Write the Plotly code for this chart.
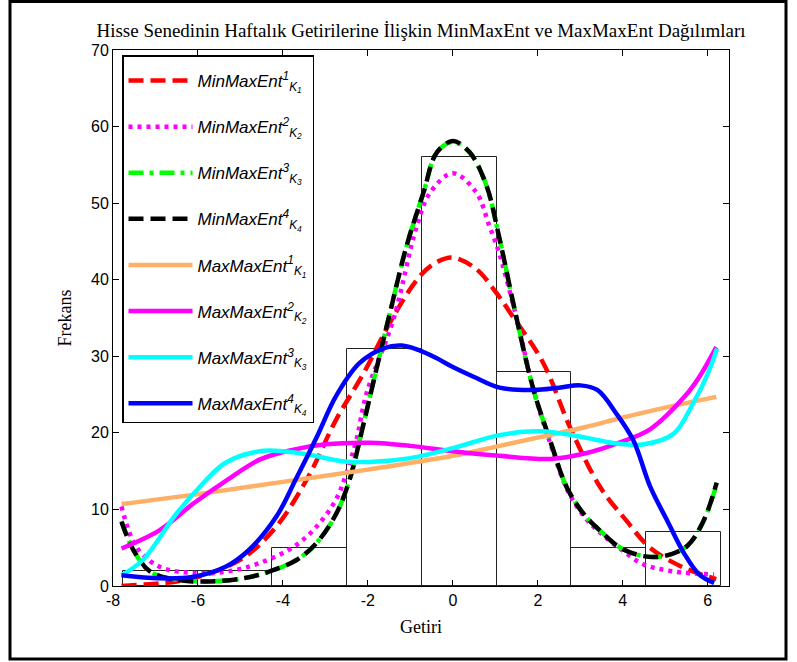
import plotly.graph_objects as go

# Histogram (Getiri bins) ------------------------------------------------
bin_centers = [-6.89, -5.13, -3.37, -1.61, 0.15, 1.91, 3.67, 5.43]
bin_counts = [2, 2, 5, 31, 56, 28, 5, 7]
bin_width = 1.76

# MinMaxEnt curves -------------------------------------------------------
mm1_x = [-7.8, -7.0, -6.5, -5.7, -4.9, -4.15, -3.4, -2.75, -2.1, -1.4, -0.77, -0.38, 0.0,
         0.55, 1.02, 1.41, 2.13, 2.76, 3.47, 4.09, 4.64, 5.43, 6.2]
mm1_y = [0.0, 0.3, 0.6, 1.7, 3.8, 7.8, 14.3, 21.7, 27.8, 35.2, 40.5, 42.3, 42.9,
         41.4, 38.3, 35.2, 29.1, 20.7, 12.9, 8.5, 5.0, 2.4, 0.9]

mm2_x = [-7.8, -7.45, -6.9, -6.1, -5.3, -4.55, -3.75, -3.2, -2.75, -2.5, -2.27, -2.03, -1.4,
         -0.85, -0.53, 0.0, 0.55, 0.86, 1.06, 1.5, 1.9, 2.3, 2.7, 3.1, 3.5, 3.95, 4.5, 5.2, 6.15]
mm2_y = [10.4, 5.1, 2.5, 1.7, 1.9, 3.0, 5.1, 7.8, 11.3, 14.8, 19.1, 25.2, 34.8,
         47.0, 51.4, 53.9, 51.4, 47.0, 44.0, 35.0, 25.6, 18.5, 12.5, 9.0, 6.8, 4.8, 2.8, 1.9, 1.5]

mm3_x = [-7.8, -7.52, -7.13, -6.5, -5.72, -4.94, -4.31, -3.68, -3.21, -2.74, -2.43, -2.11, -1.8,
         -1.48, -1.09, -0.69, -0.38, 0.0, 0.4, 0.79, 1.1, 1.49, 1.9, 2.29, 2.68, 3.08, 3.47,
         3.94, 4.49, 4.96, 5.51, 5.9, 6.21]
mm3_y = [8.5, 4.7, 1.9, 0.8, 0.6, 1.0, 1.9, 3.4, 5.6, 9.5, 13.9, 21.0, 28.3,
         35.7, 44.4, 51.4, 56.6, 58.0, 56.6, 52.3, 45.3, 35.2, 25.6, 19.0, 12.9, 9.4, 7.2,
         5.0, 3.9, 3.9, 5.2, 8.5, 13.3]

mm4_x = [-7.8, -7.52, -7.13, -6.5, -5.72, -4.94, -4.31, -3.68, -3.21, -2.74, -2.43, -2.11, -1.8,
         -1.48, -1.09, -0.69, -0.38, 0.0, 0.4, 0.79, 1.1, 1.49, 1.9, 2.29, 2.68, 3.08, 3.47,
         3.94, 4.49, 4.96, 5.51, 5.9, 6.21]
mm4_y = [8.4, 4.7, 1.9, 0.8, 0.6, 1.0, 1.9, 3.4, 5.6, 9.5, 13.9, 21.0, 28.3,
         35.7, 44.4, 51.4, 56.6, 58.1, 56.6, 52.3, 45.3, 35.2, 25.6, 19.0, 12.9, 9.4, 7.2,
         5.0, 3.9, 3.9, 5.2, 8.5, 13.5]

# MaxMaxEnt curves -------------------------------------------------------
xx1_x = [-7.8, -6.0, -4.0, -2.0, 0.0, 1.1, 2.0, 3.0, 4.0, 5.0, 6.2]
xx1_y = [10.7, 12.0, 13.6, 15.2, 17.0, 18.3, 19.4, 20.6, 22.0, 23.3, 24.7]

xx2_x = [-7.8, -6.9, -6.1, -5.3, -4.55, -3.75, -3.0, -1.95, -1.0, 0.0, 1.1, 2.3, 3.1, 3.85,
         4.65, 5.45, 5.8, 6.2]
xx2_y = [4.9, 7.3, 10.8, 13.9, 16.5, 17.8, 18.5, 18.7, 18.3, 17.6, 17.0, 16.6, 17.3, 18.6,
         20.5, 24.7, 27.3, 31.2]

xx3_x = [-7.8, -7.3, -6.5, -5.95, -5.35, -4.55, -4.0, -3.35, -2.6, -1.95, -1.0, 0.0, 1.1,
         2.05, 3.1, 3.85, 4.5, 5.2, 5.65, 6.0, 6.22]
xx3_y = [1.4, 3.4, 9.5, 13.0, 16.1, 17.6, 17.6, 17.1, 16.3, 16.2, 16.7, 18.0, 19.7,
         20.2, 19.4, 18.6, 18.5, 19.9, 23.8, 27.7, 31.0]

xx4_x = [-7.8, -6.9, -6.1, -5.35, -4.8, -4.15, -3.7, -3.2, -2.75, -2.2, -1.6, -1.2, -0.8,
         -0.4, 0.0, 0.5, 1.1, 1.9, 2.5, 3.0, 3.4, 3.85, 4.25, 4.65, 5.05, 5.45, 5.8, 6.15]
xx4_y = [1.4, 1.0, 1.2, 2.5, 4.7, 9.1, 13.9, 19.5, 24.8, 29.1, 31.1, 31.4, 30.8,
         29.8, 28.6, 27.3, 25.9, 25.6, 25.9, 26.2, 25.6, 22.5, 19.0, 12.9, 8.5, 4.2, 1.5, 0.4]

x_ticks = [-8, -6, -4, -2, 0, 2, 4, 6]
y_ticks = [0, 10, 20, 30, 40, 50, 60, 70]

title_text = "Hisse Senedinin Haftalık Getirilerine İlişkin MinMaxEnt ve MaxMaxEnt Dağılımları"


def lbl(base, k):
    return f"<i>{base}<sup>{k}</sup><sub>K<sub>{k}</sub></sub></i>"


series = [
    (lbl("MinMaxEnt", 1), mm1_x, mm1_y, "#ff0000", "15px,7px"),
    (lbl("MinMaxEnt", 2), mm2_x, mm2_y, "#ff00ff", "4px,5px"),
    (lbl("MinMaxEnt", 3), mm3_x, mm3_y, "#00ff00", "15px,6px,4px,6px"),
    (lbl("MinMaxEnt", 4), mm4_x, mm4_y, "#000000", "15px,7px"),
    (lbl("MaxMaxEnt", 1), xx1_x, xx1_y, "#ffb066", "solid"),
    (lbl("MaxMaxEnt", 2), xx2_x, xx2_y, "#ff00ff", "solid"),
    (lbl("MaxMaxEnt", 3), xx3_x, xx3_y, "#00ffff", "solid"),
    (lbl("MaxMaxEnt", 4), xx4_x, xx4_y, "#0000ff", "solid"),
]

fig = go.Figure()
fig.add_trace(go.Bar(
    x=bin_centers, y=bin_counts, width=bin_width,
    marker=dict(color="rgba(255,255,255,0)", line=dict(color="#222222", width=1)),
    showlegend=False, hoverinfo="skip",
))

for name, xs, ys, col, dash in series:
    fig.add_trace(go.Scatter(
        x=xs, y=ys, mode="lines", name=name, legendgroup=name,
        line=dict(color=col, width=4.5, dash=dash, shape="spline", smoothing=1.0),
    ))

fig.update_layout(
    width=797, height=662,
    margin=dict(l=113, r=68, t=50, b=76),
    paper_bgcolor="white", plot_bgcolor="white",
    font=dict(family="Liberation Sans, Arial", size=16, color="black"),
    title=dict(text=title_text, x=0.5, xref="paper", xanchor="center",
               y=1 - 30 / 662, yanchor="middle", yref="container",
               font=dict(family="Liberation Serif, Times New Roman", size=19, color="black")),
    showlegend=True,
    legend=dict(
        x=(122 - 113) / 616, y=1 - (55 - 50) / 536, xanchor="left", yanchor="top",
        bgcolor="white", bordercolor="black", borderwidth=1.5,
        font=dict(family="Liberation Sans, Arial", size=17, color="black"),
        tracegroupgap=21, itemwidth=64,
        title=dict(text=" ", font=dict(size=5)),
    ),
    bargap=0,
)

fig.update_xaxes(
    range=[-8, 6.5], tickvals=x_ticks, ticktext=[str(t) for t in x_ticks],
    showgrid=False, zeroline=False, showline=True, linecolor="black", linewidth=1,
    mirror="ticks", ticks="inside", ticklen=6, tickcolor="black",
    tickfont=dict(family="Liberation Sans, Arial", size=16),
    title=dict(text="Getiri", standoff=12,
               font=dict(family="Liberation Serif, Times New Roman", size=18)),
)
fig.update_yaxes(
    range=[0, 70], tickvals=y_ticks, ticktext=[str(t) for t in y_ticks],
    showgrid=False, zeroline=False, showline=True, linecolor="black", linewidth=1,
    mirror="ticks", ticks="inside", ticklen=6, tickcolor="black",
    tickfont=dict(family="Liberation Sans, Arial", size=16),
    title=dict(text="Frekans", standoff=14,
               font=dict(family="Liberation Serif, Times New Roman", size=18)),
)

# outer figure frame
fig.add_shape(type="rect", xref="paper", yref="paper",
              x0=(10 - 113) / 616, x1=(786 - 113) / 616,
              y0=(586 - 659) / 536, y1=(586 - 1.5) / 536,
              line=dict(color="black", width=3), fillcolor="rgba(0,0,0,0)", layer="above")

fig.write_html("out.html")
